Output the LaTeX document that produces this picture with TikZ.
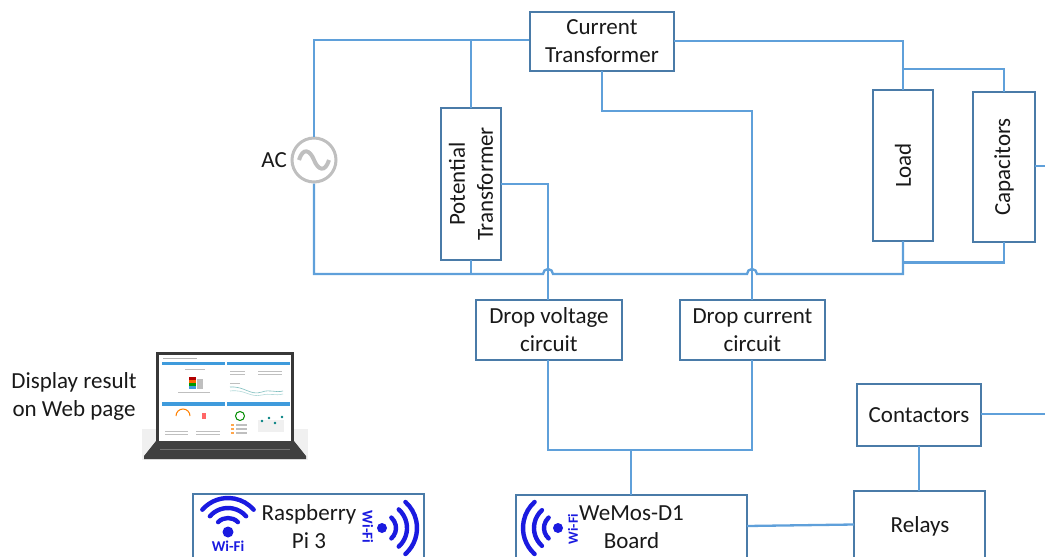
\documentclass[tikz,border=0pt]{standalone}
\usepackage{fontspec}
\setmainfont{Carlito}
\definecolor{wire}{HTML}{5FA0DA}
\definecolor{edge}{HTML}{4A7BA8}
\definecolor{wifi}{HTML}{1A1AE0}
\definecolor{bar}{HTML}{3F9BDC}
\tikzset{
  box/.style={draw=edge,line width=1.5pt,fill=white,align=center,inner sep=0pt,font=\fontsize{23}{28}\selectfont,text=black!90},
  lbl/.style={align=center,inner sep=0pt,font=\fontsize{23}{28}\selectfont,text=black!90},
  wr/.style={draw=wire,line width=2.3pt},
  wf/.style={draw=wifi,line width=4.4pt,line cap=round},
  wt/.style={text=wifi,inner sep=0pt,font=\bfseries\fontsize{15}{15}\selectfont}
}
\newcommand{\bx}[6]{\node[box,minimum width=#3 pt-#2 pt,minimum height=#5 pt-#4 pt,anchor=north west] (#1) at (#2-0.8,#4-0.8) {#6};}
\newcommand{\wfarc}[5]{\draw[wf] ([shift={(#3:#5 pt)}]#1,#2) arc[start angle=#3,end angle=#4,radius=#5 pt];}
\begin{document}
\begin{tikzpicture}[x=1pt,y=-1pt]
\useasboundingbox (0,0) rectangle (1045,557);
\clip (0,0) rectangle (1045,557);
% boxes
\bx{ct}{530}{674}{12}{71}{Current\\Transformer}
\node[box,minimum width=152pt,minimum height=60pt,rotate=90] (pt) at (471,184) {Potential\\Transformer};
\node[box,minimum width=151pt,minimum height=60pt,rotate=90] (load) at (903,165.5) {Load};
\node[box,minimum width=150pt,minimum height=62pt,rotate=90] (cap) at (1004,167) {Capacitors};
\bx{dv}{476}{622}{300}{360}{Drop voltage\\circuit}
\bx{dc}{680}{825}{300}{360}{Drop current\\circuit}
\bx{con}{857}{981}{384}{446}{Contactors}
\bx{rel}{854}{985}{491}{570}{}
\node[lbl] (reltxt) at (920,526) {Relays};
\bx{rpi}{193}{424}{494}{570}{}
\node[lbl] (rpitxt) at (309,527) {Raspberry\\Pi 3};
\bx{wem}{516}{747}{495}{570}{}
\node[lbl] (wemtxt) at (631.5,527) {WeMos-D1\\Board};
% AC source
\node[circle,draw=black!25,line width=3pt,minimum size=44pt,inner sep=0pt] (ac) at (314,160) {};
\draw[black!25,line width=4pt] (299,160) .. controls (303,147) and (310,150) .. (314,160) .. controls (318,170) and (325,173) .. (329,160);
\node[lbl,anchor=east] (aclbl) at (287,160) {AC};
% coordinates
\coordinate (tl) at (314,40);
\coordinate (tp) at (471,40);
\coordinate (tr) at (903,41);
\coordinate (bl) at (314,274);
\coordinate (bp) at (471,274);
\coordinate (br) at (903,274);
% wires
\draw[wr] (ac.north) -- (tl) -- (ct.west |- tl);
\draw[wr] (tp) -- (471,108);
\draw[wr] (674,41) -- (tr) -- (903,90);
\draw[wr] (903,69) -- (1004,69) -- (1004,92);
\draw[wr] (602,71) -- (602,111) -- (752,111) -- (752,300);
\draw[wr] (501,184) -- (548,184) -- (548,300);
\draw[wr] (ac.south) -- (bl) -- (543,274) arc[start angle=180,end angle=0,radius=5pt] -- (747,274) arc[start angle=180,end angle=0,radius=5pt] -- (br) -- (903,241);
\draw[wr] (903,262.5) -- (1004,262.5) -- (1004,242);
\draw[wr] (471,260) -- (bp);
\draw[wr] (1035,166) -- (1045,166);
\draw[wr] (981,414) -- (1045,414);
\draw[wr] (919,446) -- (919,491);
\draw[wr] (548,360) -- (548,450) -- (752,450) -- (752,360);
\draw[wr] (631,450) -- (631,495);
\draw[wr] (747,526) -- (854,524.5);
% laptop
\fill[black!6] (142,429) rectangle (308,460);
\fill[black!78] (156,352) rectangle (294,442);
\fill[white] (159,355) rectangle (291,441);
\fill[black!75] (156,441) -- (294,441) -- (306,456) -- (306,459) -- (144,459) -- (144,456) -- cycle;
\draw[black!55,line width=.6pt] (160,449) -- (290,449);
\foreach \x/\w in {162/63,227/63}{
  \fill[bar] (\x,362) rectangle +(\w,3);
  \fill[bar] (\x,402) rectangle +(\w,3.5);
}
\fill[black!30] (163,358) rectangle (197,359);
\fill[red!70!black] (189,377) rectangle (196,380);
\fill[orange!80!red] (189,380) rectangle (196,383);
\fill[green!60!black] (189,383) rectangle (196,386);
\fill[bar] (189,386) rectangle (196,389);
\fill[black!25] (197,379) rectangle (203,389);
\draw[black!25,line width=.6pt] (185,369) -- (205,369) (178,392) -- (210,392) (230,371) -- (245,371) (258,371) -- (282,371) (230,374) -- (245,374) (258,374) -- (282,374) (230,383) -- (240,383);
\draw[teal!50,line width=.6pt] (230,387) .. controls (245,386) and (250,396) .. (262,392) .. controls (270,389) and (275,393) .. (283,391);
\draw[teal!30,line width=.6pt] (230,391) .. controls (245,389) and (250,398) .. (262,395) .. controls (270,393) and (275,396) .. (283,394);
\draw[orange,line width=1pt] ([shift={(180:7pt)}]183,416) arc[start angle=180,end angle=0,radius=7pt];
\fill[red!60] (202,413) rectangle (206,419);
\draw[black!25,line width=.6pt] (165,431) -- (188,431) (196,431) -- (220,431) (165,434) -- (188,434) (196,434) -- (220,434);
\draw[green!55!black,line width=1pt] (240,416) circle[radius=4.5pt];
\fill[black!6] (258,420) rectangle (284,432);
\foreach \x/\y in {262/421,269/418,275/423,282/417}{\fill[teal] (\x,\y) circle[radius=1.4pt];}
\foreach \y in {424,428,432}{\fill[orange!70] (231,\y) rectangle +(3,2); \fill[black!25] (236,\y) rectangle +(11,1.5);}
\node[lbl] (disp) at (74,396) {Display result\\on Web page};
% wifi: Raspberry left
\fill[wifi] (228,532) circle[radius=5.5pt];
\wfarc{228}{532}{135}{45}{14}
\wfarc{228}{532}{139}{41}{24}
\wfarc{228}{532}{139}{41}{34}
\node[wt] (wf1) at (228,546.5) {Wi-Fi};
% wifi: Raspberry right
\fill[wifi] (382,528) circle[radius=5pt];
\wfarc{382}{528}{-48}{48}{14}
\wfarc{382}{528}{-48}{48}{25}
\wfarc{382}{528}{-48}{48}{35}
\node[wt,rotate=-90] (wf2) at (368,527) {Wi-Fi};
% wifi: WeMos
\fill[wifi] (558,528) circle[radius=5pt];
\wfarc{558}{528}{228}{132}{14}
\wfarc{558}{528}{228}{132}{24}
\wfarc{558}{528}{228}{132}{35}
\node[wt,rotate=90,font=\bfseries\fontsize{14}{14}\selectfont] (wf3) at (573,529) {Wi-Fi};
\end{tikzpicture}
\end{document}
